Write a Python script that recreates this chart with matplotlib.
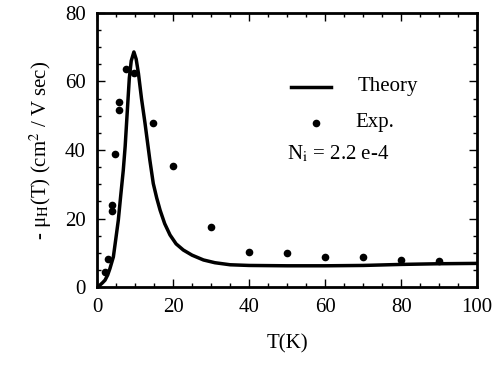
import numpy as np
import matplotlib
matplotlib.use("Agg")
import matplotlib.pyplot as plt
from matplotlib.ticker import MultipleLocator

plt.rcParams['font.family'] = ['Liberation Serif', 'DejaVu Serif']
plt.rcParams['mathtext.fontset'] = 'stix'

# experimental points
exp_T = [2.1, 3.0, 3.9, 3.9, 4.7, 5.8, 5.8, 7.5, 9.6, 14.8, 19.9, 30, 40, 50, 60, 70, 80, 90]
exp_mu = [4.5, 8.1, 23.9, 22.2, 38.7, 54.0, 51.6, 63.5, 62.5, 48.0, 35.4, 17.4, 10.2, 9.8, 8.7, 8.7, 8.0, 7.5]

# theory curve
th_T = [0.3, 0.8, 1.4, 2.1, 2.8, 3.4, 4.3, 4.9, 5.6, 6.2, 6.9, 7.4, 8.0, 8.5, 9.0, 9.7,
        10.3, 10.9, 11.7, 12.6, 13.9, 14.8, 15.7, 16.6, 17.8, 19.2, 20.8, 22.7,
        25.0, 28.0, 31.0, 35.0, 40.0, 50.0, 60.0, 70.0, 80.0, 90.0, 100.0]
th_mu = [0.0, 0.6, 1.2, 2.0, 3.5, 5.4, 8.8, 13.7, 19.5, 26.3, 34.0, 41.0, 52.0, 61.0, 66.0, 68.6,
         66.5, 62.3, 55.0, 48.0, 37.0, 30.2, 26.0, 22.4, 18.5, 15.2, 12.6, 10.8,
         9.3, 7.9, 7.1, 6.5, 6.3, 6.2, 6.2, 6.3, 6.6, 6.8, 6.9]

fig = plt.figure(figsize=(4.95, 3.68), dpi=100)
ax = fig.add_axes([0.196, 0.22, 0.768, 0.745])

ax.plot(th_T, th_mu, color='black', lw=2.5, solid_capstyle='round')
ax.plot(exp_T, exp_mu, 'o', color='black', ms=5.5, mec='none')

ax.set_xlim(0, 100)
ax.set_ylim(0, 80)
ax.xaxis.set_major_locator(MultipleLocator(20))
ax.xaxis.set_minor_locator(MultipleLocator(5))
ax.yaxis.set_major_locator(MultipleLocator(20))
ax.yaxis.set_minor_locator(MultipleLocator(5))
ax.tick_params(which='both', direction='in', top=True, right=True, labelsize=15, width=1)
ax.tick_params(which='major', length=6, pad=8)
ax.tick_params(which='minor', length=3)
for s in ax.spines.values():
    s.set_linewidth(2)

ax.set_xlabel('T(K)', fontsize=15, labelpad=12)
ax.set_ylabel(r'- μ$_{\rm H}$(T) (cm$^2$ / V sec)', fontsize=15, labelpad=8)

# legend drawn by hand
ax.plot([0.51, 0.615], [0.73, 0.73], transform=ax.transAxes, color='black', lw=2.5)
ax.text(0.685, 0.73, 'Theory', transform=ax.transAxes, fontsize=15, va='center')
ax.plot([0.575], [0.6], 'o', transform=ax.transAxes, color='black', ms=5.5, mec='none')
ax.text(0.68, 0.6, 'Exp.', transform=ax.transAxes, fontsize=15, va='center')
ax.text(0.5, 0.485, r'N$_{\rm i}$ = 2.2 e-4', transform=ax.transAxes, fontsize=15, va='center')

fig.savefig('out.png', dpi=100)
